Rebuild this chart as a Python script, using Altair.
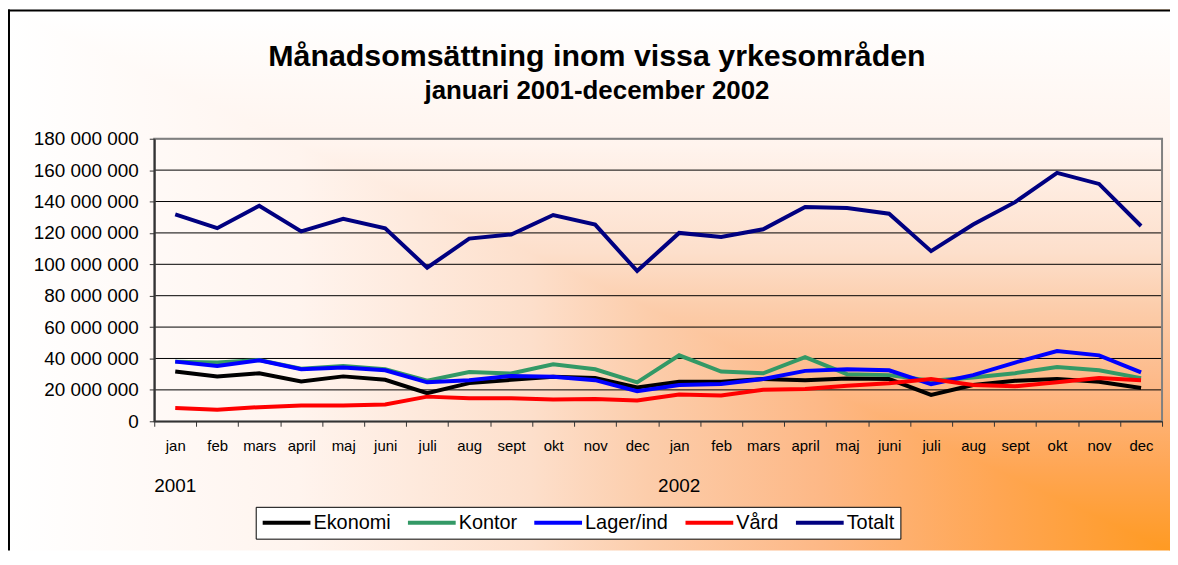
import altair as alt
import pandas as pd

# ---------------- data ----------------
months = ["jan", "feb", "mars", "april", "maj", "juni", "juli", "aug", "sept", "okt", "nov", "dec"]
years = ["2001", "2002"]
keys = [f"{y} {m}" for y in years for m in months]

series_names = ["Ekonomi", "Kontor", "Lager/ind", "Vård", "Totalt"]
series_colors = ["#000000", "#339966", "#0000FF", "#FF0000", "#000080"]

# values in millions SEK
ekonomi = [31.7, 28.6, 30.6, 25.4, 28.6, 26.4, 17.9, 24.3, 26.4, 28.3, 27.5, 21.6,
           25.2, 25.2, 26.9, 26.2, 27.3, 26.9, 16.8, 23.1, 25.8, 26.9, 25.2, 21.2]
kontor = [38.0, 37.4, 39.0, 33.5, 35.2, 33.1, 25.8, 31.4, 30.4, 36.3, 33.1, 24.8,
          42.0, 31.7, 30.6, 40.9, 30.0, 29.4, 25.8, 27.9, 30.6, 34.6, 32.5, 27.5]
lager = [38.0, 35.2, 38.8, 33.1, 34.2, 32.5, 24.8, 26.2, 28.9, 28.3, 26.2, 19.1,
         23.1, 23.7, 26.9, 32.1, 33.1, 32.5, 23.7, 29.4, 37.4, 44.7, 42.0, 31.1]
vard = [8.4, 7.4, 9.0, 10.0, 10.0, 10.7, 15.7, 14.7, 14.7, 13.8, 14.2, 13.2,
        17.0, 16.4, 20.1, 20.6, 22.6, 24.2, 26.9, 23.1, 22.3, 24.8, 27.5, 26.2]
totalt = [131.8, 123.0, 137.3, 121.0, 129.0, 123.0, 97.8, 116.4, 119.0, 131.4, 125.3, 95.7,
          120.0, 117.4, 122.3, 136.5, 135.8, 132.2, 108.4, 125.3, 139.6, 158.2, 151.2, 124.4]

y_ticks = [0, 20e6, 40e6, 60e6, 80e6, 100e6, 120e6, 140e6, 160e6, 180e6]
year_labels = [{"key": "2001 jan", "label": "2001"}, {"key": "2002 jan", "label": "2002"}]

title_text = "Månadsomsättning inom vissa yrkesområden"
subtitle_text = "januari 2001-december 2002"

rows = []
for name, vals in zip(series_names, [ekonomi, kontor, lager, vard, totalt]):
    for k, v in zip(keys, vals):
        rows.append({"key": k, "serie": name, "value": v * 1e6})
df = pd.DataFrame(rows)

# ---------------- layout ----------------
W, H = 1013, 284
PL, PT, PR, PB = 147, 130, 8, 130
FONT = "Liberation Sans"

stops = [(0.0, "#FFFFFF"), (0.25, "#FFF4EE"), (0.45, "#FDDFCB"), (0.55, "#FCCDAB"),
         (0.7, "#FDB886"), (0.85, "#FFA653"), (1.0, "#FF9A22")]
gstops = [alt.GradientStop(offset=o, color=c) for o, c in stops]
grad_h = alt.LinearGradient(gradient="linear", stops=gstops, x1=0, x2=1, y1=0, y2=0)
grad_v = alt.LinearGradient(gradient="linear", stops=gstops, x1=0, x2=0, y1=0, y2=1)

one = alt.Data(values=[{"a": 1}])

bg_rect = alt.Chart(one).mark_rect(fill=grad_h, strokeWidth=0).encode(
    x=alt.value(-PL), x2=alt.value(W + PR), y=alt.value(-PT), y2=alt.value(H + PB)
)

tri = alt.Data(values=[{"bx": -PL, "by": -PT, "by2": -PT},
                       {"bx": W + PR, "by": -PT, "by2": H + PB}])
bg_tri = alt.Chart(tri).mark_area(fill=grad_v, strokeWidth=0).encode(
    x=alt.X("bx:Q", scale=None, axis=None),
    y=alt.Y("by:Q", scale=None, axis=None),
    y2="by2:Q",
)

x_enc = alt.X(
    "key:N", sort=keys, bandPosition=0.5,
    scale=alt.Scale(type="band", domain=keys, paddingInner=0, paddingOuter=0),
    axis=alt.Axis(title=None, labelAngle=0, tickBand="extent", grid=False,
                  labelExpr="split(datum.label, ' ')[1]", labelFontSize=15,
                  labelFont=FONT, labelColor="black", tickSize=5, labelPadding=12,
                  labelOverlap=False,
                  tickColor="#333333", domainColor="#333333", domainWidth=1.5, zindex=1),
)
y_scale = alt.Scale(domain=[0, 180e6], nice=False)
y_axis = alt.Axis(title=None, values=y_ticks, grid=False, labelOverlap=False,
                  labelExpr="replace(format(datum.value, ','), regexp(',', 'g'), ' ')",
                  labelFontSize=19, labelFont=FONT, labelColor="black",
                  tickSize=5, labelPadding=11, tickColor="#333333",
                  domainColor="#333333", domainWidth=2, zindex=1)

grid = alt.Chart(pd.DataFrame({"v": y_ticks})).mark_rule(color="black", strokeWidth=1).encode(
    y=alt.Y("v:Q", scale=y_scale, axis=y_axis)
)

lines = alt.Chart(df).mark_line(strokeWidth=4).encode(
    x=x_enc,
    y=alt.Y("value:Q", scale=y_scale, axis=y_axis),
    color=alt.Color("serie:N", sort=series_names,
                    scale=alt.Scale(domain=series_names, range=series_colors),
                    legend=alt.Legend(orient="none", legendX=102, legendY=370,
                                      direction="horizontal", title=None,
                                      symbolType="M-4,0H4", symbolSize=144,
                                      symbolOffset=15, symbolStrokeWidth=4,
                                      labelFontSize=20, labelFont=FONT, labelColor="black",
                                      labelOffset=17, columnPadding=9, padding=6,
                                      strokeColor="black", fillColor="white")),
)

years_txt = alt.Chart(alt.Data(values=year_labels)).mark_text(
    fontSize=19, font=FONT, color="black", baseline="middle"
).encode(
    x=alt.X("key:N", sort=keys, bandPosition=0.5),
    y=alt.value(349),
    text="label:N",
)

title_mark = alt.Chart(alt.Data(values=[{"t": title_text}])).mark_text(
    fontSize=30.5, font=FONT, fontWeight="bold", color="black", baseline="alphabetic", align="center"
).encode(x=alt.value(445), y=alt.value(-73), text="t:N")

subtitle_mark = alt.Chart(alt.Data(values=[{"t": subtitle_text}])).mark_text(
    fontSize=26, font=FONT, fontWeight="bold", color="black", baseline="alphabetic", align="center"
).encode(x=alt.value(445), y=alt.value(-40), text="t:N")

frame = alt.Chart(one).mark_rect(fillOpacity=0, stroke="#808080", strokeWidth=2).encode(
    x=alt.value(0), x2=alt.value(W), y=alt.value(0), y2=alt.value(H)
)

border_left = alt.Chart(one).mark_rule(color="black", strokeWidth=2).encode(
    x=alt.value(-PL + 1), y=alt.value(-PT), y2=alt.value(H + PB)
)
border_top = alt.Chart(one).mark_rule(color="black", strokeWidth=2).encode(
    x=alt.value(-PL), x2=alt.value(W + PR), y=alt.value(-PT + 1)
)

chart = alt.layer(
    bg_rect, bg_tri, grid, lines, years_txt, title_mark, subtitle_mark,
    frame, border_left, border_top
).properties(
    width=W, height=H,
    autosize=alt.AutoSizeParams(type="none"),
    padding={"left": PL, "top": PT, "right": PR, "bottom": PB},
).configure(font=FONT).configure_view(stroke=None)

chart.save("out.html", embed_options={"renderer": "svg", "actions": False})
